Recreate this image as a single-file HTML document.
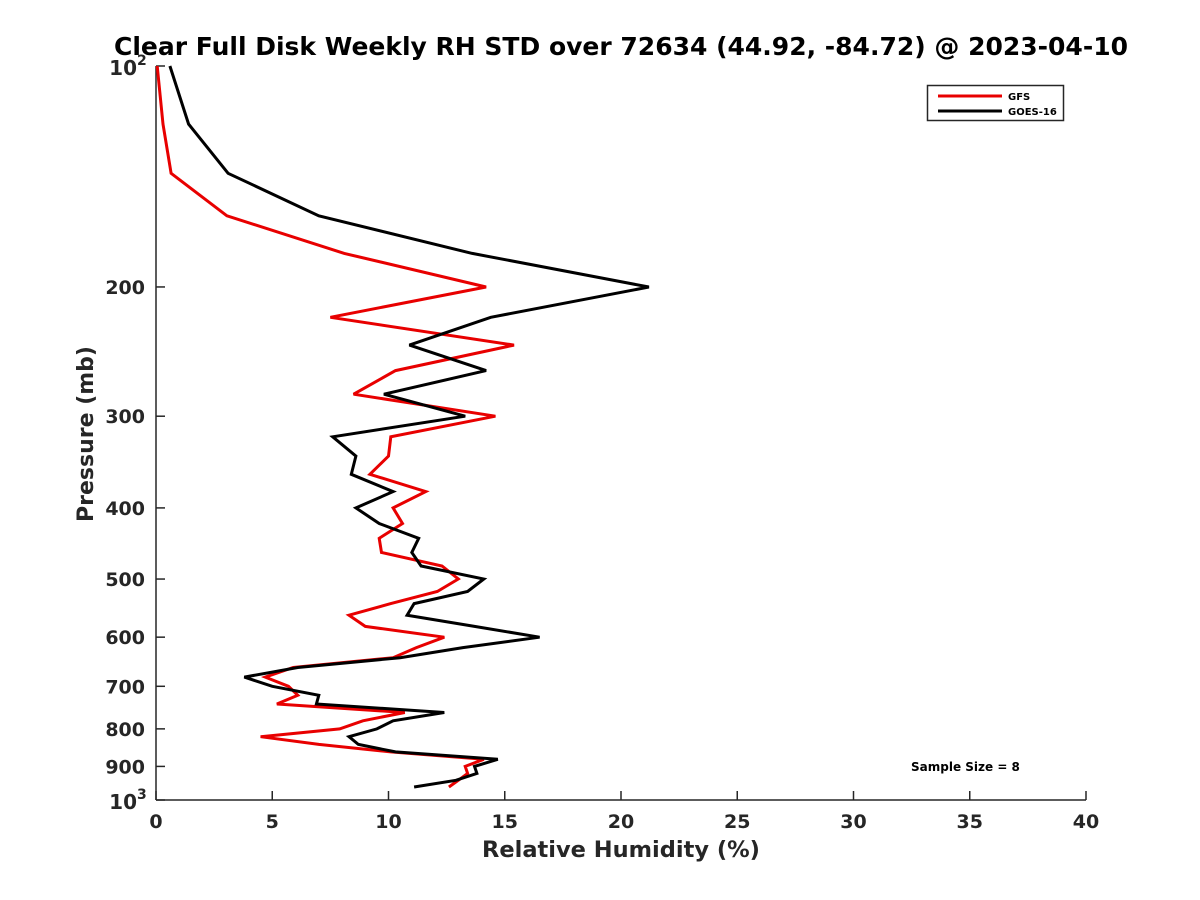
<!DOCTYPE html>
<html><head><meta charset="utf-8"><style>
html,body{margin:0;padding:0;background:#fff;}
svg{display:block;font-family:"DejaVu Sans","Liberation Sans",sans-serif;font-weight:bold;}
</style></head><body>
<svg id="chart" width="1200" height="900" viewBox="0 0 1200 900">
<text x="621" y="55" text-anchor="middle" font-size="25" fill="#000">Clear Full Disk Weekly RH STD over 72634 (44.92, -84.72) @ 2023-04-10</text>
<g id="axes"></g>
<g id="series"></g>
<text x="621" y="857" text-anchor="middle" font-size="22.5" fill="#262626">Relative Humidity (%)</text>
<text transform="translate(93,434) rotate(-90)" text-anchor="middle" font-size="22" fill="#262626">Pressure (mb)</text>
<g>
<rect x="927.5" y="85.5" width="136" height="35" fill="#fff" stroke="#262626" stroke-width="1.5"/>
<line x1="938" y1="96" x2="1002" y2="96" stroke="#e80000" stroke-width="3"/>
<text x="1008" y="100" font-size="10" fill="#000">GFS</text>
<line x1="938" y1="111" x2="1002" y2="111" stroke="#000" stroke-width="3"/>
<text x="1008" y="115" font-size="10" fill="#000">GOES-16</text>
</g>
<text x="911" y="771" font-size="12" fill="#000">Sample Size = 8</text>
</svg>
<script>
const pressures = [100,120,140,160,180,200,220,240,260,280,300,320,340,360,380,400,420,440,460,480,500,520,540,560,580,600,620,640,660,680,700,720,740,760,780,800,820,840,860,880,900,920,940,960];
const goesValues = [0.6,1.4,3.1,7.0,13.6,21.2,14.4,10.9,14.2,9.8,13.3,7.6,8.6,8.4,10.2,8.6,9.6,11.3,11.0,11.4,14.1,13.4,11.1,10.8,13.7,16.5,13.2,10.5,6.1,3.8,5.0,7.0,6.9,12.4,10.2,9.5,8.3,8.7,10.3,14.7,13.7,13.8,12.9,11.1];
const gfsValues = [0.05,0.3,0.65,3.05,8.1,14.2,7.5,15.4,10.3,8.5,14.6,10.1,10.0,9.2,11.6,10.2,10.6,9.6,9.7,12.3,13.0,12.1,10.1,8.3,9.0,12.4,11.2,10.2,5.9,4.7,5.7,6.1,5.2,10.7,8.9,7.9,4.5,7.0,10.1,14.1,13.3,13.4,13.0,12.6];
const xTicks = [0,5,10,15,20,25,30,35,40];
const yTicks = [200,300,400,500,600,700,800,900];

const X0=156,X1=1086,Y0=66,Y1=800;
const xScale=v=>X0+(v-0)/(40-0)*(X1-X0);
const yScale=p=>Y0+(Math.log10(p)-2)/(3-2)*(Y1-Y0);
const NS='http://www.w3.org/2000/svg';
function mk(tag,attrs,parent){const e=document.createElementNS(NS,tag);for(const k in attrs)e.setAttribute(k,attrs[k]);parent.appendChild(e);return e;}
const axes=document.getElementById('axes');
const series=document.getElementById('series');

let a=mk('line',{x1:X0,y1:Y0,x2:X0,y2:Y1,stroke:'#262626','stroke-width':1.5},axes);


a=mk('line',{x1:X0,y1:Y1,x2:X1,y2:Y1,stroke:'#262626','stroke-width':1.5},axes);



xTicks.forEach(v=>{
  const x=xScale(v);
  const t=mk('line',{x1:x,y1:Y1,x2:x,y2:Y1-9,stroke:'#262626','stroke-width':1.5},axes);
  
  
  const l=mk('text',{x:x,y:Y1+28,'text-anchor':'middle','font-size':19,fill:'#262626'},axes);
  l.textContent=String(v);
  
  
});
yTicks.forEach(p=>{
  const y=yScale(p);
  const t=mk('line',{x1:X0,y1:y,x2:X0+9,y2:y,stroke:'#262626','stroke-width':1.5},axes);
  
  
  const l=mk('text',{x:X0-11,y:y+7,'text-anchor':'end','font-size':19,fill:'#262626'},axes);
  l.textContent=String(p);
  
  
});
[[100,'2'],[1000,'3']].forEach(([p,e])=>{
  const y=yScale(p);
  const t=mk('line',{x1:X0,y1:y,x2:X0+9,y2:y,stroke:'#262626','stroke-width':1.5},axes);
  
  
  const l=mk('text',{x:X0-10,y:y+9,'text-anchor':'end','font-size':20,fill:'#262626'},axes);
  l.textContent='10';
  
  
  const s=mk('text',{x:X0-10,y:y-1,'text-anchor':'start','font-size':14,fill:'#262626'},axes);
  s.textContent=e;
  
  
  l.setAttribute('x',X0-19);
  s.setAttribute('x',X0-19);
});

function drawLine(vals,color,name){
  const pts=vals.map((v,i)=>xScale(v).toFixed(1)+','+yScale(pressures[i]).toFixed(1)).join(' ');
  const pl=mk('polyline',{points:pts,fill:'none',stroke:color,'stroke-width':3,'stroke-linejoin':'miter','stroke-miterlimit':3},series);
  
  
}
drawLine(gfsValues,'#e80000','gfs-line');
drawLine(goesValues,'#000000','goes16-line');
</script>
</body></html>
